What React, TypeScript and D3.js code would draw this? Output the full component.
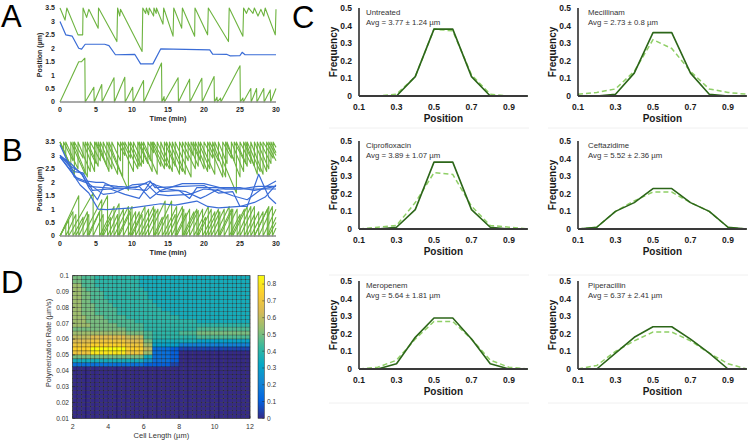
import * as d3 from 'd3';

type Pt = [number, number];

const FONT = '"Liberation Sans", Arial, Helvetica, sans-serif';
const GREEN = '#6db33f';
const BLUE = '#3a6cd6';

// ---------- A: one cell, two filaments + nucleoid position ----------
const aBlue: Pt[] = [
  [0, 3.0], [0.8, 2.5], [1.7, 2.45], [2.6, 2.0], [3.0, 1.97], [3.5, 2.15], [6.2, 2.15], [6.8, 2.1],
  [7.7, 1.76], [10.4, 1.77], [11.2, 1.42], [12.9, 1.42], [14.0, 1.98], [20.8, 1.94], [21.2, 1.78],
  [23.2, 1.77], [23.6, 1.72], [25.0, 1.73], [25.3, 1.85], [25.7, 1.76], [30, 1.76],
];
const aGreenTop: Pt[] = [
  [0, 3.5], [0.7, 3.05], [0.95, 3.5], [2.5, 2.5], [3.15, 2.5], [3.2, 3.5], [3.7, 3.15], [4.0, 3.45],
  [5.3, 2.75], [5.35, 3.5], [7.9, 2.25], [8.0, 3.5], [8.3, 3.2], [8.4, 3.45], [11.4, 1.88], [11.5, 3.5],
  [11.9, 3.3], [12.0, 3.5], [12.3, 3.25], [12.4, 3.5], [13.0, 3.2], [13.05, 3.5], [13.35, 3.3], [13.4, 3.5],
  [14.3, 2.9], [14.4, 3.5], [15.7, 2.45], [15.8, 3.5], [16.9, 2.75], [17.0, 3.5], [18.7, 2.45], [18.75, 3.5],
  [20.5, 2.5], [20.6, 3.5], [23.4, 2.25], [23.5, 3.5], [25.4, 2.45], [25.5, 3.5], [25.9, 3.3], [26.2, 3.5],
  [26.8, 3.3], [27.0, 3.5], [27.5, 3.2], [27.9, 3.45], [28.3, 3.2], [28.5, 3.5], [29.9, 2.5], [30, 3.45],
];
const aGreenBottom: Pt[] = [
  [0, 0], [2.6, 1.5], [3.0, 1.5], [3.45, 1.63], [3.5, 0], [4.7, 0.55], [4.75, 0], [5.8, 0.65], [5.85, 0],
  [7.5, 0.9], [7.55, 0], [9.0, 0.92], [9.05, 0], [10.1, 0.55], [10.15, 0], [11.6, 0.8], [11.65, 0],
  [14.1, 1.45], [14.15, 0], [14.45, 0.2], [14.5, 0], [16.4, 0.9], [16.45, 0], [18.0, 0.85], [18.05, 0],
  [19.7, 0.88], [19.75, 0], [21.4, 0.95], [21.45, 0], [21.8, 0.18], [21.85, 0], [22.3, 0.15], [22.35, 0],
  [25.0, 1.35], [25.05, 0], [25.4, 0.15], [25.45, 0], [26.5, 0.5], [26.55, 0], [27.3, 0.5], [27.35, 0],
  [28.3, 0.5], [28.35, 0], [29.2, 0.45], [29.25, 0], [30, 0.5],
];

// ---------- B: several cells ----------
// upper filaments: [time, value before reset, value after reset]
const bUpper: number[][][] = [
  [[1.5, 2.6, 3.5], [3.5, 2.3, 3.5], [5.0, 2.7, 3.5], [6.5, 2.6, 3.5], [9.5, 1.7, 3.5], [11.0, 2.6, 3.5],
   [12.8, 2.4, 3.5], [14.5, 2.5, 3.5], [16.0, 2.6, 3.5], [18.2, 2.2, 3.5], [19.5, 2.8, 3.5], [21.5, 2.3, 3.5],
   [24.5, 1.6, 3.5], [26.0, 2.6, 3.5], [27.8, 2.4, 3.5], [29.3, 2.7, 3.5], [30, 3.1, 3.1]],
  [[0.8, 3.0, 3.5], [2.5, 2.5, 3.5], [4.2, 2.4, 3.5], [5.6, 2.8, 3.5], [7.2, 2.5, 3.5], [8.4, 2.8, 3.5],
   [10.2, 2.4, 3.5], [11.6, 2.7, 3.5], [13.5, 2.3, 3.5], [15.2, 2.5, 3.5], [17.0, 2.4, 3.5], [18.8, 2.5, 3.5],
   [20.5, 2.4, 3.5], [22.6, 2.2, 3.5], [23.8, 2.9, 3.5], [25.5, 2.4, 3.5], [27.0, 2.6, 3.5], [28.7, 2.4, 3.5],
   [30, 2.8, 2.8]],
  [[2.0, 2.3, 3.5], [3.2, 2.9, 3.5], [4.8, 2.4, 3.5], [6.0, 2.9, 3.5], [8.0, 2.3, 3.5], [9.0, 3.0, 3.5],
   [10.8, 2.5, 3.5], [12.2, 2.7, 3.5], [13.0, 3.1, 3.5], [14.8, 2.6, 3.5], [16.6, 2.3, 3.5], [17.8, 2.8, 3.5],
   [19.2, 2.6, 3.5], [20.8, 2.5, 3.5], [22.0, 2.8, 3.5], [23.2, 2.7, 3.5], [25.0, 2.2, 3.5], [26.5, 2.7, 3.5],
   [28.2, 2.3, 3.5], [29.6, 2.9, 3.5], [30, 3.3, 3.3]],
  [[0.5, 3.2, 3.5], [1.8, 2.8, 3.5], [3.8, 2.2, 3.5], [5.3, 2.6, 3.5], [6.8, 2.4, 3.5], [8.7, 2.2, 3.5],
   [9.8, 2.9, 3.5], [11.3, 2.6, 3.5], [12.6, 2.8, 3.5], [14.0, 2.6, 3.5], [15.6, 2.4, 3.5], [17.4, 2.3, 3.5],
   [18.5, 3.0, 3.5], [20.0, 2.5, 3.5], [21.2, 2.9, 3.5], [23.0, 2.2, 3.5], [24.2, 2.8, 3.5], [25.8, 2.7, 3.5],
   [27.4, 2.3, 3.5], [29.0, 2.5, 3.5], [30, 3.0, 3.0]],
];
// lower filaments: [time, peak, value after drop]
const bLower: number[][][] = [
  [[2.6, 1.5, 0], [4.0, 0.8, 0], [5.5, 0.9, 0], [7.5, 1.1, 0], [9.5, 1.1, 0], [11.0, 0.9, 0], [13.0, 1.1, 0],
   [14.2, 0.7, 0], [16.2, 1.1, 0], [18.0, 1.0, 0], [19.8, 1.0, 0], [21.5, 0.9, 0], [23.5, 1.1, 0],
   [25.0, 0.8, 0], [27.0, 1.1, 0], [28.8, 1.0, 0], [30, 0.7, 0.7]],
  [[1.2, 0.6, 0], [4.6, 1.6, 0], [6.0, 0.8, 0], [8.2, 1.2, 0], [9.8, 0.9, 0], [11.8, 1.1, 0], [13.6, 1.0, 0],
   [15.0, 0.8, 0], [17.0, 1.1, 0], [18.6, 0.9, 0], [20.6, 1.1, 0], [22.2, 0.9, 0], [24.0, 1.0, 0],
   [26.0, 1.1, 0], [27.6, 0.9, 0], [29.5, 1.1, 0], [30, 0.3, 0.3]],
  [[1.8, 0.9, 0], [3.2, 0.7, 0], [5.8, 1.35, 0], [7.0, 0.7, 0], [8.8, 1.0, 0], [10.5, 0.9, 0], [12.3, 1.0, 0],
   [14.6, 1.3, 0], [16.0, 0.8, 0], [17.5, 0.85, 0], [19.2, 0.95, 0], [21.0, 1.0, 0], [22.8, 1.0, 0],
   [24.6, 1.0, 0], [26.5, 1.1, 0], [28.2, 0.9, 0], [30, 1.0, 1.0]],
  [[0.8, 0.45, 0], [2.2, 0.8, 0], [3.8, 0.9, 0], [6.6, 1.5, 0], [8.0, 0.8, 0], [10.0, 1.1, 0], [11.4, 0.8, 0],
   [13.2, 1.0, 0], [15.5, 1.3, 0], [17.2, 1.0, 0], [19.0, 1.0, 0], [20.2, 0.7, 0], [22.0, 1.0, 0],
   [23.8, 1.0, 0], [25.6, 1.0, 0], [27.0, 0.8, 0], [29.0, 1.1, 0], [30, 0.5, 0.5]],
];
const bBlue: Pt[][] = [
  [[0, 3.0], [1.5, 2.6], [3.0, 2.35], [4.0, 1.8], [5.2, 1.35], [6.2, 1.9], [8, 1.85], [10.5, 1.8], [12.5, 2.05],
   [13.2, 1.8], [17, 1.85], [20, 1.88], [22, 1.6], [24, 1.65], [25, 1.1], [26, 1.1], [27.6, 2.3], [29, 1.45], [30, 1.2]],
  [[0, 2.95], [1.8, 2.3], [2.8, 1.9], [4.0, 1.6], [5.3, 1.0], [6.5, 0.98], [10, 1.05], [14, 1.2], [16, 1.15],
   [19, 1.3], [20.5, 1.1], [22, 1.05], [25, 1.1], [27, 1.25], [28.5, 1.45], [30, 1.9]],
  [[0, 3.0], [2, 2.4], [3.2, 2.35], [4.5, 1.7], [7, 1.75], [9, 1.55], [11, 1.4], [12.5, 2.0], [13.3, 1.9],
   [15, 1.75], [17.5, 1.65], [19.5, 1.4], [20.3, 1.5], [22, 1.75], [24, 1.75], [30, 1.75]],
  [[0, 3.4], [2, 2.2], [3.5, 2.05], [5, 2.0], [6, 2.0], [7.5, 1.8], [10, 1.75], [12, 1.7], [13, 1.95], [14, 1.65],
   [16.5, 1.7], [18, 1.4], [19, 1.8], [22, 1.8], [25, 1.8], [27, 1.7], [30, 1.85]],
  [[0, 2.95], [2.5, 2.1], [4, 1.95], [6, 1.55], [7.5, 1.6], [10, 1.9], [12, 1.95], [13.5, 1.55], [15, 1.5],
   [18, 1.55], [20, 1.75], [22, 1.7], [24, 1.5], [26, 1.35], [28, 1.75], [30, 2.05]],
  [[0, 3.0], [1.5, 2.7], [3, 2.3], [4, 1.85], [6, 1.8], [8.5, 1.75], [11, 1.85], [12.5, 1.4], [14, 1.7],
   [17, 1.95], [20, 1.95], [23, 1.75], [25, 1.75], [27.5, 1.85], [30, 1.85]],
];

const timeTicks = [0, 5, 10, 15, 20, 25, 30];
const posTicks = [0, 0.5, 1, 1.5, 2, 2.5, 3, 3.5];

// ---------- C: position histograms ----------
const cBins = [0.1, 0.2, 0.3, 0.4, 0.5, 0.6, 0.7, 0.8, 0.9, 1.0];
const cNames = ['Untreated', 'Mecillinam', 'Ciprofloxacin', 'Ceftazidime', 'Meropenem', 'Piperacillin'];
const cAvgs = [
  'Avg = 3.77 ± 1.24 µm', 'Avg = 2.73 ± 0.8 µm', 'Avg = 3.89 ± 1.07 µm',
  'Avg = 5.52 ± 2.36 µm', 'Avg = 5.64 ± 1.81 µm', 'Avg = 6.37 ± 2.41 µm',
];
const cSolid = [
  [0, 0, 0, 0.11, 0.38, 0.38, 0.11, 0, 0, 0],
  [0, 0, 0.01, 0.13, 0.36, 0.36, 0.13, 0.01, 0, 0],
  [0, 0, 0.01, 0.11, 0.38, 0.38, 0.11, 0.01, 0, 0],
  [0, 0.01, 0.1, 0.15, 0.23, 0.23, 0.15, 0.1, 0.01, 0],
  [0, 0, 0.03, 0.18, 0.29, 0.29, 0.17, 0.03, 0, 0],
  [0, 0, 0.09, 0.18, 0.24, 0.24, 0.17, 0.09, 0, 0],
];
const cDashed = [
  [0, 0, 0.01, 0.11, 0.38, 0.37, 0.12, 0.01, 0, 0],
  [0.01, 0.02, 0.04, 0.14, 0.32, 0.27, 0.14, 0.04, 0.02, 0.01],
  [0, 0.01, 0.02, 0.15, 0.32, 0.31, 0.13, 0.02, 0.01, 0],
  [0, 0.01, 0.1, 0.16, 0.21, 0.21, 0.15, 0.1, 0.01, 0],
  [0, 0.01, 0.05, 0.17, 0.27, 0.27, 0.17, 0.05, 0.01, 0],
  [0, 0.02, 0.1, 0.16, 0.21, 0.21, 0.16, 0.09, 0.03, 0],
];
const cXTicks = [0.1, 0.3, 0.5, 0.7, 0.9];
const cYTicks = [0, 0.1, 0.2, 0.3, 0.4, 0.5];

// ---------- D: heat map ----------
// rows from 0.1 down to 0.01 (step 0.0025), 40 columns from 2 to 12 µm (step 0.25)
// run-length coded: letter = level (a=0, b=0.05, ... r=0.85), number = cell count
const heatRows = [
  'k2j3i10h25', 'k2j3i10h25', 'l2j3i10h25', 'l2k1j3i10h24', 'l2k2j3i10h23', 'l2k2j3i10h23',
  'l2k2j4i10h22', 'l2k3j4i10h21', 'l2k3j5i10h20', 'l2k3j5i12h18', 'l3k4j5i12h16', 'l3k5j6i14h12',
  'l4k6j6i24', 'k12j4i12j12', 'l12k4j2i6j4k12', 'm4n8m4j2i10j12', 'n4o8n4k2h10g12', 'o4p8o4l2g6e16',
  'p4r8p4m2d4c2b16', 'o4q8o4l2d4c2a16', 'k16h2d4c2a16', 'h16f2d4c2a16', 'd16c2c4b2a16',
  'a40', 'a40', 'a40', 'a40', 'a40', 'a40', 'a40', 'a40', 'a40', 'a40', 'a40', 'a40', 'a40',
];
const lengthTicks = [2, 4, 6, 8, 10, 12];
const rateTicks = [0.01, 0.02, 0.03, 0.04, 0.05, 0.06, 0.07, 0.08, 0.09, 0.1];
const cbarTicks = [0, 0.1, 0.2, 0.3, 0.4, 0.5, 0.6, 0.7, 0.8];
const parula = ['#352a87', '#0363e1', '#1485d4', '#06a7c6', '#38b99e', '#92bf73', '#d9ba56', '#fcce2e', '#f9fb0e'];

const LEVELS = 'abcdefghijklmnopqr';
function decodeRow(s: string): number[] {
  const out: number[] = [];
  for (const m of s.matchAll(/([a-r])(\d+)/g)) {
    for (let k = 0; k < +m[2]; k++) out.push(LEVELS.indexOf(m[1]) * 0.05);
  }
  return out;
}

function sawtooth(start: number, teeth: number[][]): Pt[] {
  const pts: Pt[] = [[0, start]];
  teeth.forEach(([t, a, b]) => {
    pts.push([t, a]);
    pts.push([t, b]);
  });
  return pts;
}

function TracePanel({ top, bottom, greens, blues }: { top: number; bottom: number; greens: Pt[][]; blues: Pt[][] }) {
  const x = d3.scaleLinear().domain([0, 30]).range([60, 276]);
  const y = d3.scaleLinear().domain([0, 3.5]).range([bottom, top]);
  const line = d3.line<Pt>().x((d) => x(d[0])).y((d) => y(d[1]));
  const lab = { fontFamily: FONT, fontSize: 7, fontWeight: 700, fill: '#262626' } as const;
  return (
    <g>
      {greens.map((g, i) => (
        <path key={`g${i}`} d={line(g) ?? ''} fill="none" stroke={GREEN} strokeWidth={1.1} strokeLinejoin="round" />
      ))}
      {blues.map((b, i) => (
        <path key={`b${i}`} d={line(b) ?? ''} fill="none" stroke={BLUE} strokeWidth={1.2} strokeLinejoin="round" />
      ))}
      <line x1={x(0)} x2={x(30)} y1={y(0)} y2={y(0)} stroke="#8c8c8c" strokeWidth={1.6} />
      {posTicks.map((v) => (
        <text key={v} x={55} y={y(v)} dy="0.35em" textAnchor="end" {...lab}>{v}</text>
      ))}
      {timeTicks.map((t) => (
        <text key={t} x={x(t)} y={bottom + 8} dy="0.35em" textAnchor="middle" {...lab}>{t}</text>
      ))}
      <text x={x(15)} y={bottom + 16.5} dy="0.35em" textAnchor="middle" {...lab} fontSize={7.3}>Time (min)</text>
      <text transform={`translate(40,${(top + bottom) / 2}) rotate(-90)`} textAnchor="middle" dy="0.35em" {...lab}>
        Position (µm)
      </text>
    </g>
  );
}

function HistPanel({ idx, axisX, zeroY, titleDx, sepY }: { idx: number; axisX: number; zeroY: number; titleDx: number; sepY: number }) {
  const x = d3.scaleLinear().domain([0.1, 1.0]).range([axisX, axisX + 168.75]);
  const y = d3.scaleLinear().domain([0, 0.5]).range([zeroY, zeroY - 88]);
  const line = d3.line<number>().x((_, i) => x(cBins[i])).y((d) => y(d));
  const bold = { fontFamily: FONT, fontWeight: 700, fill: '#1a1a1a' } as const;
  return (
    <g>
      <line x1={axisX - 30} x2={axisX + 170} y1={sepY} y2={sepY} stroke="#f0f0f0" strokeWidth={1} />
      <path d={line(cDashed[idx]) ?? ''} fill="none" stroke="#8fcf66" strokeWidth={1.5} strokeDasharray="5,3" />
      <path d={line(cSolid[idx]) ?? ''} fill="none" stroke="#2c6619" strokeWidth={1.6} strokeLinejoin="round" />
      <line x1={axisX} x2={axisX} y1={y(0)} y2={y(0.5)} stroke="#111" strokeWidth={1.4} />
      <line x1={axisX} x2={x(1.0)} y1={y(0)} y2={y(0)} stroke="#3a3a3a" strokeWidth={2} />
      {cYTicks.map((v) => (
        <text key={v} x={axisX - 7} y={y(v)} dy="0.35em" textAnchor="end" fontSize={8.5} {...bold}>{v}</text>
      ))}
      {cXTicks.map((v) => (
        <text key={v} x={x(v)} y={zeroY + 11.5} dy="0.35em" textAnchor="middle" fontSize={8.5} {...bold}>{v}</text>
      ))}
      <text x={x(0.55)} y={zeroY + 22} dy="0.35em" textAnchor="middle" fontSize={10} {...bold}>Position</text>
      <text transform={`translate(${axisX - 26},${zeroY - 44}) rotate(-90)`} dy="0.35em" textAnchor="middle" fontSize={10} {...bold}>
        Frequency
      </text>
      <text x={axisX + titleDx} y={zeroY - 83.3} dy="0.35em" fontFamily={FONT} fontSize={7.8} fill="#333">{cNames[idx]}</text>
      <text x={axisX + titleDx} y={zeroY - 73.5} dy="0.35em" fontFamily={FONT} fontSize={7.8} fill="#333">{cAvgs[idx]}</text>
    </g>
  );
}

function HeatPanel() {
  const x = d3.scaleLinear().domain([2, 12]).range([72.7, 250]);
  const y = d3.scaleLinear().domain([0.01, 0.1]).range([418.3, 275.7]);
  const vmax = 0.85;
  const color = d3
    .scaleLinear<string>()
    .domain(parula.map((_, i) => (i / (parula.length - 1)) * vmax))
    .range(parula)
    .clamp(true);
  const cy = d3.scaleLinear().domain([0, vmax]).range([418.3, 275.7]);
  const grid = heatRows.map(decodeRow);
  const cw = x(2.25) - x(2);
  const ch = y(0.1) - y(0.1 - 0.0025);
  const lab = { fontFamily: FONT, fontSize: 6.6, fill: '#333' } as const;
  return (
    <g>
      <defs>
        <linearGradient id="parula" x1="0" y1="1" x2="0" y2="0">
          {parula.map((c, i) => (
            <stop key={i} offset={i / (parula.length - 1)} stopColor={c} />
          ))}
        </linearGradient>
      </defs>
      {grid.map((row, j) =>
        row.map((v, i) => (
          <rect
            key={`${j}-${i}`}
            x={x(2 + i * 0.25)}
            y={y(0.1 - j * 0.0025)}
            width={cw}
            height={-ch}
            fill={color(v)}
            stroke="rgba(0,0,0,0.5)"
            strokeWidth={0.5}
          />
        )),
      )}
      <rect x={x(2)} y={y(0.1)} width={x(12) - x(2)} height={y(0.01) - y(0.1)} fill="none" stroke="#222" strokeWidth={0.6} />
      {lengthTicks.map((t) => (
        <g key={t}>
          <line x1={x(t)} x2={x(t)} y1={y(0.01)} y2={y(0.01) - 2.5} stroke="#222" strokeWidth={0.6} />
          <text x={x(t)} y={426.5} dy="0.35em" textAnchor="middle" {...lab} fontSize={7}>{t}</text>
        </g>
      ))}
      {rateTicks.map((r) => (
        <g key={r}>
          <line x1={x(2)} x2={x(2) + 2.5} y1={y(r)} y2={y(r)} stroke="#222" strokeWidth={0.6} />
          <text x={69} y={y(r)} dy="0.35em" textAnchor="end" {...lab}>{r}</text>
        </g>
      ))}
      <text x={x(7)} y={435.5} dy="0.35em" textAnchor="middle" {...lab} fontSize={7.5}>Cell Length (µm)</text>
      <text transform={`translate(48,${(y(0.1) + y(0.01)) / 2 - 4}) rotate(-90)`} dy="0.35em" textAnchor="middle" {...lab} fontSize={7.3}>
        Polymerization Rate (µm/s)
      </text>
      <rect x={258} y={cy(vmax)} width={6.3} height={cy(0) - cy(vmax)} fill="url(#parula)" stroke="#222" strokeWidth={0.5} />
      {cbarTicks.map((v) => (
        <g key={v}>
          <line x1={262.3} x2={264.3} y1={cy(v)} y2={cy(v)} stroke="#222" strokeWidth={0.5} />
          <text x={267} y={cy(v)} dy="0.35em" {...lab}>{v}</text>
        </g>
      ))}
    </g>
  );
}

export default function App() {
  const letter = { fontFamily: FONT, fontSize: 31, fill: '#000' } as const;
  const bGreens = [...bUpper.map((t) => sawtooth(3.5, t)), ...bLower.map((t) => sawtooth(0, t))];
  return (
    <svg width={750} height={440} style={{ position: 'absolute', left: 0, top: 0, background: '#fff' }}>
      <TracePanel top={8} bottom={102} greens={[aGreenTop, aGreenBottom]} blues={[aBlue]} />
      <TracePanel top={142} bottom={236} greens={bGreens} blues={bBlue} />
      <HeatPanel />
      <HistPanel idx={0} axisX={359} zeroY={96} titleDx={7} sepY={128} />
      <HistPanel idx={1} axisX={578} zeroY={96} titleDx={10} sepY={128} />
      <HistPanel idx={2} axisX={359} zeroY={229} titleDx={7} sepY={275} />
      <HistPanel idx={3} axisX={578} zeroY={229} titleDx={10} sepY={275} />
      <HistPanel idx={4} axisX={359} zeroY={369} titleDx={7} sepY={403} />
      <HistPanel idx={5} axisX={578} zeroY={369} titleDx={10} sepY={403} />
      <text x={1} y={27} {...letter}>A</text>
      <text x={2} y={161} {...letter}>B</text>
      <text x={292} y={28} {...letter}>C</text>
      <text x={1} y={293} {...letter}>D</text>
    </svg>
  );
}
